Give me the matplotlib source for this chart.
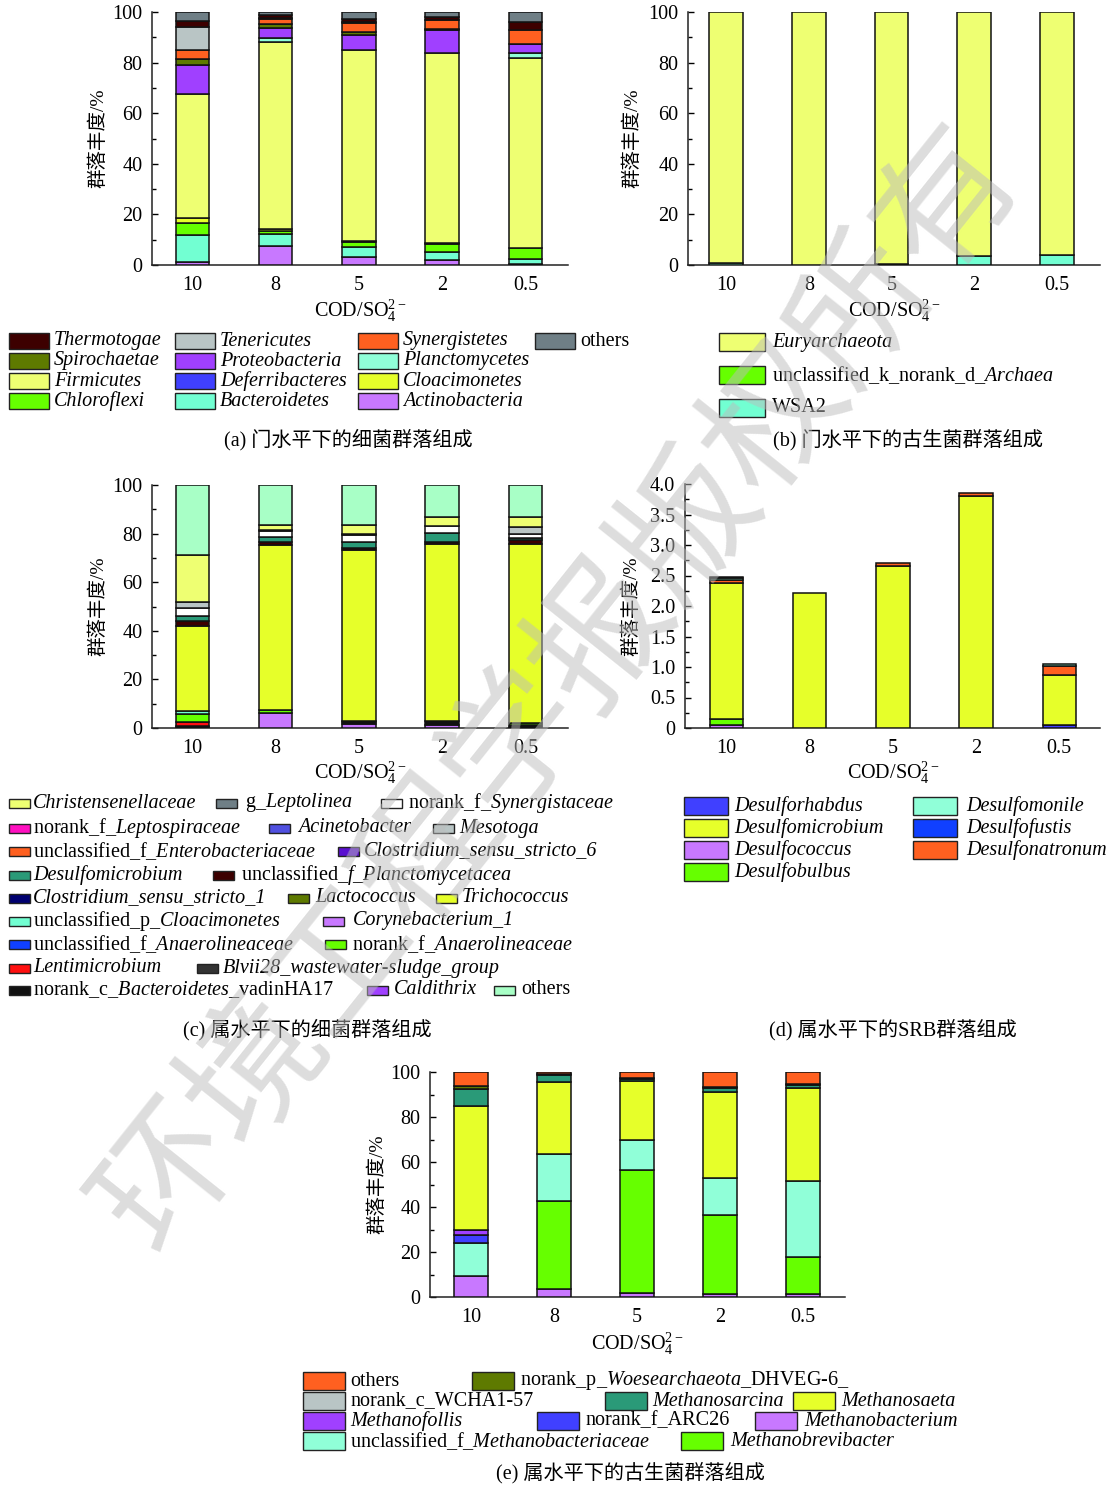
import numpy as np
import matplotlib
matplotlib.use("Agg")
import matplotlib.pyplot as plt
from matplotlib.patches import Rectangle
from matplotlib.ticker import MultipleLocator

plt.rcParams["font.family"] = ["Liberation Serif", "Noto Sans CJK SC", "DejaVu Sans"]
plt.rcParams["mathtext.fontset"] = "custom"
plt.rcParams["mathtext.rm"] = "Liberation Serif"
plt.rcParams["mathtext.it"] = "Liberation Serif:italic"
plt.rcParams["mathtext.bf"] = "Liberation Serif:bold"

# ---------------- data ----------------
ratios = ["10", "8", "5", "2", "0.5"]
x_label = r"COD/SO$_4^{2-}$"
y_label = "群落丰度/%"

# (a) bacteria, phylum level (stacked bottom -> top)
a_actinobacteria = [1.3, 7.6, 3.3, 2.0, 0.5]
a_bacteroidetes = [10.5, 4.6, 3.7, 3.3, 1.7]
a_chloroflexi = [4.9, 1.1, 1.9, 2.9, 4.4]
a_cloacimonetes = [1.7, 0.8, 0.5, 0.4, 0.0]
a_firmicutes = [49.0, 74.1, 75.5, 75.3, 75.4]
a_planctomycetes = [0.0, 1.7, 0.0, 0.0, 1.6]
a_deferribacteres = [0.0, 0.0, 0.0, 0.0, 0.0]
a_proteobacteria = [11.8, 3.9, 6.2, 8.9, 3.6]
a_spirochaetae = [2.2, 1.3, 0.9, 0.6, 0.3]
a_synergistetes = [3.7, 2.3, 3.7, 3.3, 5.5]
a_tenericutes = [9.0, 0.2, 0.5, 0.0, 0.0]
a_thermotogae = [2.2, 1.1, 1.2, 1.3, 2.9]
a_others = [3.7, 1.3, 2.6, 2.0, 4.1]

# (b) archaea, phylum level
b_wsa2 = [0.8, 0.0, 0.3, 3.7, 4.1]
b_unclassified_archaea = [0.0, 0.0, 0.0, 0.0, 0.0]
b_euryarchaeota = [99.2, 100.0, 99.7, 96.3, 95.9]

# (c) bacteria, genus level
c_corynebacterium_1 = [0.5, 6.0, 1.6, 1.2, 0.3]
c_vadinHA17 = [0.5, 0.0, 0.7, 1.8, 0.9]
c_lentimicrobium = [1.3, 0.0, 0.0, 0.0, 0.0]
c_norank_anaerolineaceae = [3.5, 1.4, 0.7, 0.0, 0.8]
c_uncl_cloacimonetes = [1.1, 0.0, 0.0, 0.0, 0.0]
c_trichococcus = [35.2, 67.9, 70.4, 72.7, 73.7]
c_uncl_planctomycetacea = [2.1, 1.4, 0.7, 1.0, 1.8]
c_desulfomicrobium = [2.0, 2.0, 2.3, 3.5, 0.5]
c_synergistaceae = [3.0, 2.5, 3.0, 2.8, 1.8]
c_mesotoga = [2.5, 0.4, 0.6, 0.0, 2.8]
c_christensenellaceae = [19.5, 2.1, 3.5, 3.7, 4.1]
c_others = [28.8, 16.3, 16.5, 13.3, 13.3]

# (d) SRB, genus level
d_desulforhabdus = [0.0, 0.0, 0.0, 0.0, 0.05]
d_desulfococcus = [0.05, 0.0, 0.0, 0.0, 0.0]
d_desulfobulbus = [0.10, 0.0, 0.0, 0.0, 0.0]
d_desulfomicrobium = [2.23, 2.21, 2.66, 3.81, 0.82]
d_desulfonatronum = [0.04, 0.0, 0.05, 0.04, 0.14]
d_desulfomonile = [0.04, 0.0, 0.0, 0.0, 0.04]
d_desulfofustis = [0.02, 0.0, 0.0, 0.0, 0.0]
d_yticks = [0, 0.5, 1.0, 1.5, 2.0, 2.5, 3.0, 3.5, 4.0]
d_yticklabels = ["0", "0.5", "1.0", "1.5", "2.0", "2.5", "3.0", "3.5", "4.0"]

# (e) archaea, genus level
e_methanobacterium = [9.3, 3.4, 1.6, 1.3, 1.2]
e_methanobrevibacter = [0.0, 39.3, 54.8, 35.1, 16.7]
e_uncl_methanobacteriaceae = [14.5, 20.8, 13.6, 16.7, 33.7]
e_arc26 = [3.7, 0.0, 0.0, 0.0, 0.0]
e_methanofollis = [2.2, 0.0, 0.0, 0.0, 0.0]
e_methanosaeta = [55.1, 32.2, 26.0, 38.0, 41.4]
e_methanosarcina = [7.8, 3.0, 1.0, 2.0, 1.2]
e_wcha1_57 = [0.0, 0.0, 0.0, 0.0, 0.0]
e_woesearchaeota = [1.0, 0.5, 0.5, 0.4, 0.5]
e_others = [6.4, 0.8, 2.5, 6.5, 5.3]

# ---------------- colours ----------------
C = dict(
    maroon="#3d0000", olive="#5e7a00", paleyellow="#eeff72", green="#66ff00",
    lightgray="#b9c5c5", purple="#a040ff", blue="#4040ff", aqua="#72ffd2",
    orange="#ff6020", lightaqua="#90ffd8", yellow="#e6ff2a", lilac="#c878ff",
    slate="#6f7f86", magenta="#ff10c0", violet="#5a10d0", teal="#2a9a78",
    navy="#000070", brightblue="#1040ff", red="#ff1010", black="#111111",
    mint="#a8ffc6", white="#ffffff", dark="#333333", acin="#5050e0",
)

W, H = 1109, 1486
fig = plt.figure(figsize=(W / 100, H / 100), dpi=100)
x = np.arange(len(ratios))
TICK_FS = 14.5


def px_axes(l, r, t, b):
    return fig.add_axes([l / W, 1 - b / H, (r - l) / W, (b - t) / H])


def stacked(ax, series, width):
    bottom = np.zeros(len(x))
    for vals, col in series:
        v = np.asarray(vals, float)
        m = v > 0
        ax.bar(x[m], v[m], bottom=bottom[m], width=width, color=col,
               edgecolor="#111111", linewidth=1.1, zorder=3)
        bottom += v


def style(ax, ymax, major, minor, xlim, ylab_x):
    for s in ["top", "right"]:
        ax.spines[s].set_visible(False)
    for s in ["left", "bottom"]:
        ax.spines[s].set_linewidth(1.1)
        ax.spines[s].set_color("#222222")
    ax.set_xlim(*xlim)
    ax.set_ylim(0, ymax)
    ax.set_xticks(x)
    ax.set_xticklabels(ratios)
    ax.tick_params(axis="x", length=0, pad=8, labelsize=TICK_FS)
    ax.yaxis.set_major_locator(MultipleLocator(major))
    ax.yaxis.set_minor_locator(MultipleLocator(minor))
    ax.tick_params(axis="y", which="major", direction="in", length=4,
                   width=1, labelsize=TICK_FS, pad=7)
    ax.tick_params(axis="y", which="minor", direction="in", length=3, width=1)
    ax.set_ylabel(y_label, fontsize=14)
    ax.yaxis.set_label_coords(ylab_x, 0.5)


# (a)
axa = px_axes(152, 568, 12, 265)
stacked(axa, [
    (a_actinobacteria, C["lilac"]), (a_bacteroidetes, C["aqua"]),
    (a_chloroflexi, C["green"]), (a_cloacimonetes, C["yellow"]),
    (a_firmicutes, C["paleyellow"]), (a_planctomycetes, C["lightaqua"]),
    (a_deferribacteres, C["blue"]), (a_proteobacteria, C["purple"]),
    (a_spirochaetae, C["olive"]), (a_synergistetes, C["orange"]),
    (a_tenericutes, C["lightgray"]), (a_thermotogae, C["maroon"]),
    (a_others, C["slate"]),
], 0.4)
style(axa, 100, 20, 10, (-0.487, 4.513), -0.108)

# (b)
axb = px_axes(688, 1100, 12, 265)
stacked(axb, [
    (b_wsa2, C["aqua"]), (b_unclassified_archaea, C["green"]),
    (b_euryarchaeota, C["paleyellow"]),
], 0.41)
style(axb, 100, 20, 10, (-0.46, 4.52), -0.112)

# (c)
axc = px_axes(152, 568, 485, 728)
stacked(axc, [
    (c_corynebacterium_1, C["lilac"]), (c_vadinHA17, C["black"]),
    (c_lentimicrobium, C["red"]), (c_norank_anaerolineaceae, C["green"]),
    (c_uncl_cloacimonetes, C["aqua"]), (c_trichococcus, C["yellow"]),
    (c_uncl_planctomycetacea, C["maroon"]), (c_desulfomicrobium, C["teal"]),
    (c_synergistaceae, C["white"]), (c_mesotoga, C["lightgray"]),
    (c_christensenellaceae, C["paleyellow"]), (c_others, C["mint"]),
], 0.4)
style(axc, 100, 20, 10, (-0.487, 4.513), -0.108)

# (d)
axd = px_axes(685, 1100, 484, 728)
stacked(axd, [
    (d_desulforhabdus, C["blue"]), (d_desulfococcus, C["lilac"]),
    (d_desulfobulbus, C["green"]), (d_desulfomicrobium, C["yellow"]),
    (d_desulfonatronum, C["orange"]), (d_desulfomonile, C["lightaqua"]),
    (d_desulfofustis, C["brightblue"]),
], 0.4)
style(axd, 4.0, 0.5, 0.25, (-0.5, 4.49), -0.108)
axd.set_yticks(d_yticks)
axd.set_yticklabels(d_yticklabels)

# (e)
axe = px_axes(430, 845, 1072, 1297)
stacked(axe, [
    (e_methanobacterium, C["lilac"]), (e_methanobrevibacter, C["green"]),
    (e_uncl_methanobacteriaceae, C["lightaqua"]), (e_arc26, C["blue"]),
    (e_methanofollis, C["purple"]), (e_methanosaeta, C["yellow"]),
    (e_methanosarcina, C["teal"]), (e_wcha1_57, C["lightgray"]),
    (e_woesearchaeota, C["olive"]), (e_others, C["orange"]),
], 0.4)
style(axe, 100, 20, 10, (-0.494, 4.506), -0.104)

# ---------------- overlay: axis titles, legends, captions ----------------
ov = fig.add_axes([0, 0, 1, 1])
ov.set_xlim(0, W)
ov.set_ylim(H, 0)
ov.axis("off")

for cx, cy in [(360, 311), (894, 311), (360, 773), (893, 773), (637, 1344)]:
    ov.text(cx, cy, x_label, fontsize=TICK_FS, ha="center", va="center")

captions = [
    (348, 440, "(a) 门水平下的细菌群落组成"),
    (908, 440, "(b) 门水平下的古生菌群落组成"),
    (307, 1030, "(c) 属水平下的细菌群落组成"),
    (893, 1030, "(d) 属水平下的SRB群落组成"),
    (630, 1473, "(e) 属水平下的古生菌群落组成"),
]
for cx, cy, t in captions:
    ov.text(cx, cy, t, fontsize=14.5, ha="center", va="center")


def entry(px, py, pw, ph, color, tx, label, italic=False, fs=14.5):
    ov.add_patch(Rectangle((px, py - ph / 2), pw, ph, facecolor=color,
                           edgecolor="#222222", linewidth=1.0))
    ov.text(tx, py, label, fontsize=fs, ha="left", va="center",
            fontstyle="italic" if italic else "normal")


# legend (a)
for i, (lab, col) in enumerate([("Thermotogae", "maroon"), ("Spirochaetae", "olive"),
                                 ("Firmicutes", "paleyellow"), ("Chloroflexi", "green")]):
    entry(9, 341 + 20 * i, 40, 16, C[col], 54, lab, True)
for i, (lab, col) in enumerate([("Tenericutes", "lightgray"), ("Proteobacteria", "purple"),
                                 ("Deferribacteres", "blue"), ("Bacteroidetes", "aqua")]):
    entry(175, 341 + 20 * i, 40, 16, C[col], 220, lab, True)
for i, (lab, col) in enumerate([("Synergistetes", "orange"), ("Planctomycetes", "lightaqua"),
                                 ("Cloacimonetes", "yellow"), ("Actinobacteria", "lilac")]):
    entry(358, 341 + 20 * i, 40, 16, C[col], 403, lab, True)
entry(535, 341, 40, 16, C["slate"], 580, "others")

# legend (b)
entry(719, 342, 46, 18, C["paleyellow"], 772, "Euryarchaeota", True)
entry(719, 375, 46, 18, C["green"], 772, r"unclassified_k_norank_d_$\mathit{Archaea}$")
entry(719, 408, 46, 18, C["aqua"], 772, "WSA2")

# legend (c)
c_entries = [
    (9, 803, "paleyellow", 33, "Christensenellaceae", True),
    (216, 803, "slate", 245, r"g_$\mathit{Leptolinea}$", False),
    (381, 803, "white", 408, r"norank_f_$\mathit{Synergistaceae}$", False),
    (9, 828, "magenta", 33, r"norank_f_$\mathit{Leptospiraceae}$", False),
    (269, 828, "acin", 298, "Acinetobacter", True),
    (433, 828, "lightgray", 459, "Mesotoga", True),
    (9, 851, "orange", 33, r"unclassified_f_$\mathit{Enterobacteriaceae}$", False),
    (338, 851, "violet", 364, "Clostridium_sensu_stricto_6", True),
    (9, 875, "teal", 33, "Desulfomicrobium", True),
    (213, 875, "maroon", 241, r"unclassified_$\mathit{f}$_$\mathit{Planctomycetacea}$", False),
    (9, 898, "navy", 33, "Clostridium_sensu_stricto_1", True),
    (288, 898, "olive", 315, "Lactococcus", True),
    (436, 898, "yellow", 462, "Trichococcus", True),
    (9, 921, "aqua", 33, r"unclassified_p_$\mathit{Cloacimonetes}$", False),
    (323, 921, "lilac", 353, "Corynebacterium_1", True),
    (9, 944, "brightblue", 33, r"unclassified_f_$\mathit{Anaerolineaceae}$", False),
    (325, 944, "green", 352, r"norank_f_$\mathit{Anaerolineaceae}$", False),
    (9, 968, "red", 33, "Lentimicrobium", True),
    (197, 968, "dark", 223, "Blvii28_wastewater-sludge_group", True),
    (9, 990, "black", 33, r"norank_c_$\mathit{Bacteroidetes}$_vadinHA17", False),
    (367, 990, "purple", 394, "Caldithrix", True),
    (494, 990, "mint", 521, "others", False),
]
for px, py, col, tx, lab, it in c_entries:
    entry(px, py, 21, 9, C[col], tx, lab, it)

# legend (d)
for i, (lab, col) in enumerate([("Desulforhabdus", "blue"), ("Desulfomicrobium", "yellow"),
                                 ("Desulfococcus", "lilac"), ("Desulfobulbus", "green")]):
    entry(684, 806 + 22 * i, 44, 18, C[col], 734, lab, True)
for i, (lab, col) in enumerate([("Desulfomonile", "lightaqua"), ("Desulfofustis", "brightblue"),
                                 ("Desulfonatronum", "orange")]):
    entry(913, 806 + 22 * i, 44, 18, C[col], 966, lab, True)

# legend (e)
e_entries = [
    (303, 1381, "orange", 350, "others", False),
    (472, 1381, "olive", 520, r"norank_p_$\mathit{Woesearchaeota}$_DHVEG-6_", False),
    (303, 1401, "lightgray", 350, "norank_c_WCHA1-57", False),
    (605, 1401, "teal", 652, "Methanosarcina", True),
    (793, 1401, "yellow", 841, "Methanosaeta", True),
    (303, 1421, "purple", 350, "Methanofollis", True),
    (537, 1421, "blue", 585, "norank_f_ARC26", False),
    (755, 1421, "lilac", 804, "Methanobacterium", True),
    (303, 1441, "lightaqua", 350, r"unclassified_f_$\mathit{Methanobacteriaceae}$", False),
    (681, 1441, "green", 730, "Methanobrevibacter", True),
]
for px, py, col, tx, lab, it in e_entries:
    entry(px, py, 42, 18, C[col], tx, lab, it)

# journal watermark across the page
ov.text(560, 690, "环境工程学报版权所有", fontsize=100, rotation=51.4,
        color="#bcbcbc", alpha=0.5, ha="center", va="center",
        family=["Noto Sans CJK SC"], zorder=20)

fig.savefig("out.png", dpi=100)
